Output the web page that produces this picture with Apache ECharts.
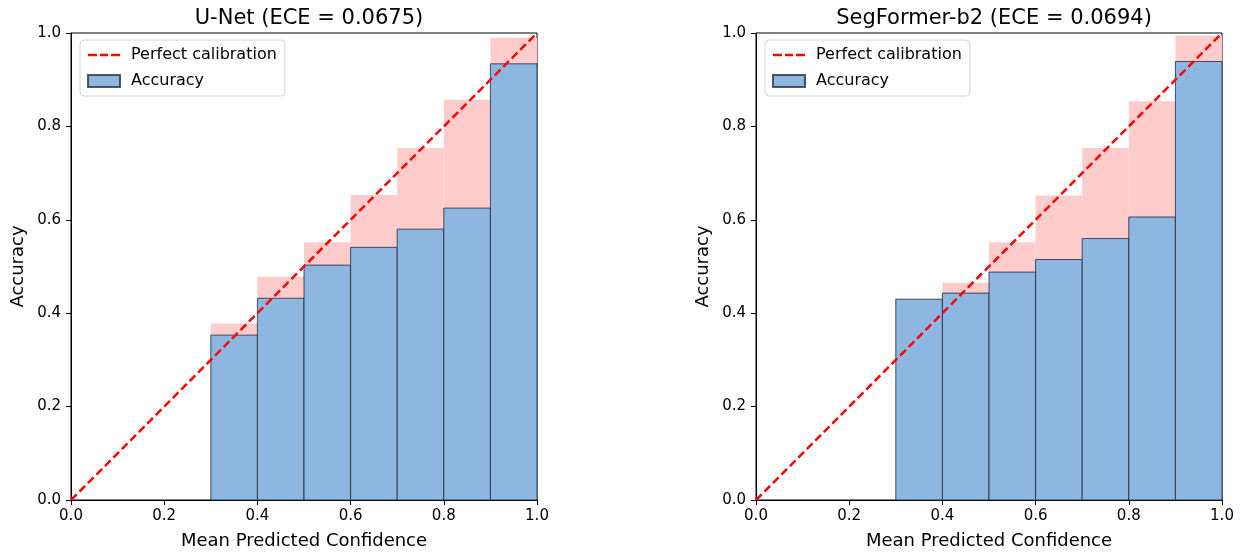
<!DOCTYPE html>
<html lang="en">
<head>
    <meta charset="UTF-8">
    <title>Reliability Diagrams</title>
    <script src="https://cdn.jsdelivr.net/npm/echarts@6/dist/echarts.min.js"></script>
    <style>
        body { margin: 0; background: #fff; }
        #chart { width: 1247px; height: 555px; }
    </style>
</head>
<body>
<div id="chart"></div>
<script>
    // bins (lower edges), width 0.1
    const binLo = [0.3, 0.4, 0.5, 0.6, 0.7, 0.8, 0.9];
    const binWidth = 0.1;
    const models = ['U-Net (ECE = 0.0675)', 'SegFormer-b2 (ECE = 0.0694)'];
    // accuracy per bin
    const accUnet = [0.353, 0.432, 0.503, 0.541, 0.580, 0.625, 0.934];
    const accSeg = [0.430, 0.443, 0.488, 0.515, 0.560, 0.606, 0.939];
    // mean confidence per bin
    const confUnet = [0.378, 0.478, 0.552, 0.653, 0.754, 0.857, 0.990];
    const confSeg = [0.370, 0.465, 0.552, 0.652, 0.754, 0.854, 0.994];
    const tickLabels = ['0.0', '0.2', '0.4', '0.6', '0.8', '1.0'];

    const font = 'DejaVu Sans';
    const chart = echarts.init(document.getElementById('chart'));

    function rectItem(fill, stroke) {
        return function (params, api) {
            const p0 = api.coord([api.value(0), api.value(2)]);
            const p1 = api.coord([api.value(1), api.value(3)]);
            return {
                type: 'rect',
                shape: {
                    x: p0[0], y: Math.min(p0[1], p1[1]),
                    width: p1[0] - p0[0], height: Math.abs(p1[1] - p0[1])
                },
                style: { fill: fill, stroke: stroke, lineWidth: stroke ? 1 : 0 }
            };
        };
    }

    const grids = [
        { left: 71, top: 33, width: 466, height: 467, show: true, borderColor: '#000', borderWidth: 1, backgroundColor: 'transparent' },
        { left: 756, top: 33, width: 466, height: 467, show: true, borderColor: '#000', borderWidth: 1, backgroundColor: 'transparent' }
    ];

    function axisCommon(name, isY) {
        return {
            type: 'value', min: 0, max: 1, interval: 0.2,
            name: name, nameLocation: 'middle',
            nameGap: isY ? 44 : 32,
            nameTextStyle: { fontFamily: font, fontSize: 18, color: '#000' },
            axisLine: { show: true, onZero: false, lineStyle: { color: '#000', width: 1 } },
            axisTick: { show: true, inside: false, length: 5, lineStyle: { color: '#000' } },
            axisLabel: {
                fontFamily: font, fontSize: 15, color: '#000', margin: isY ? 10 : 9,
                formatter: v => tickLabels[Math.round(v * 5)]
            },
            splitLine: { show: false }
        };
    }

    const series = [];
    const accs = [accUnet, accSeg];
    const confs = [confUnet, confSeg];
    for (let i = 0; i < 2; i++) {
        const gap = binLo.map((lo, k) => [lo, lo + binWidth, accs[i][k], confs[i][k]]);
        const bars = binLo.map((lo, k) => [lo, lo + binWidth, 0, accs[i][k]]);
        series.push({
            name: 'Gap', type: 'custom', xAxisIndex: i, yAxisIndex: i,
            renderItem: rectItem('#ffcccc', null), data: gap, z: 1, silent: true
        });
        series.push({
            name: 'Accuracy', type: 'custom', xAxisIndex: i, yAxisIndex: i,
            renderItem: rectItem('#8db7e1', 'rgba(20,30,45,0.75)'), data: bars, z: 2,
            itemStyle: { color: '#8db7e1', borderColor: 'rgba(40,50,65,0.8)', borderWidth: 1 }
        });
        series.push({
            name: 'Perfect calibration', type: 'line', xAxisIndex: i, yAxisIndex: i,
            data: [[0, 0], [1, 1]], symbol: 'none', z: 3,
            lineStyle: { color: '#ff0000', width: 2.5, type: [8, 4] },
            itemStyle: { color: '#ff0000' }
        });
    }

    // dashed line icon in a 32x12 box
    const dashIcon = 'path://M0,0h0.01v0.01h-0.01z M0,4.7h9v2.6h-9z M12,4.7h8v2.6h-8z M23,4.7h9v2.6h-9z M31.99,11.99h0.01v0.01h-0.01z';

    function legendAt(left) {
        return {
            left: left, top: 40, orient: 'vertical',
            data: [
                { name: 'Perfect calibration', icon: dashIcon, itemStyle: { color: '#ff0000', borderWidth: 0 } },
                { name: 'Accuracy', icon: 'rect' }
            ],
            itemWidth: 32, itemHeight: 12, itemGap: 10,
            padding: [7, 8, 7, 7],
            borderColor: '#d4d4d4', borderWidth: 1, borderRadius: 4,
            backgroundColor: 'rgba(255,255,255,0.8)',
            textStyle: { fontFamily: font, fontSize: 16, color: '#000', padding: [0, 0, 0, 6] },
            selectedMode: false
        };
    }

    chart.setOption({
        animation: false,
        backgroundColor: '#fff',
        title: models.map((t, i) => ({
            text: t, left: i === 0 ? 304 : 989, top: 3, textAlign: 'center',
            textStyle: { fontFamily: font, fontSize: 21, fontWeight: 'normal', color: '#000' }
        })),
        legend: [legendAt(80), legendAt(765)],
        grid: grids,
        xAxis: [0, 1].map(i => Object.assign(axisCommon('Mean Predicted Confidence', false), { gridIndex: i })),
        yAxis: [0, 1].map(i => Object.assign(axisCommon('Accuracy', true), { gridIndex: i })),
        series: series
    });
</script>
</body>
</html>
